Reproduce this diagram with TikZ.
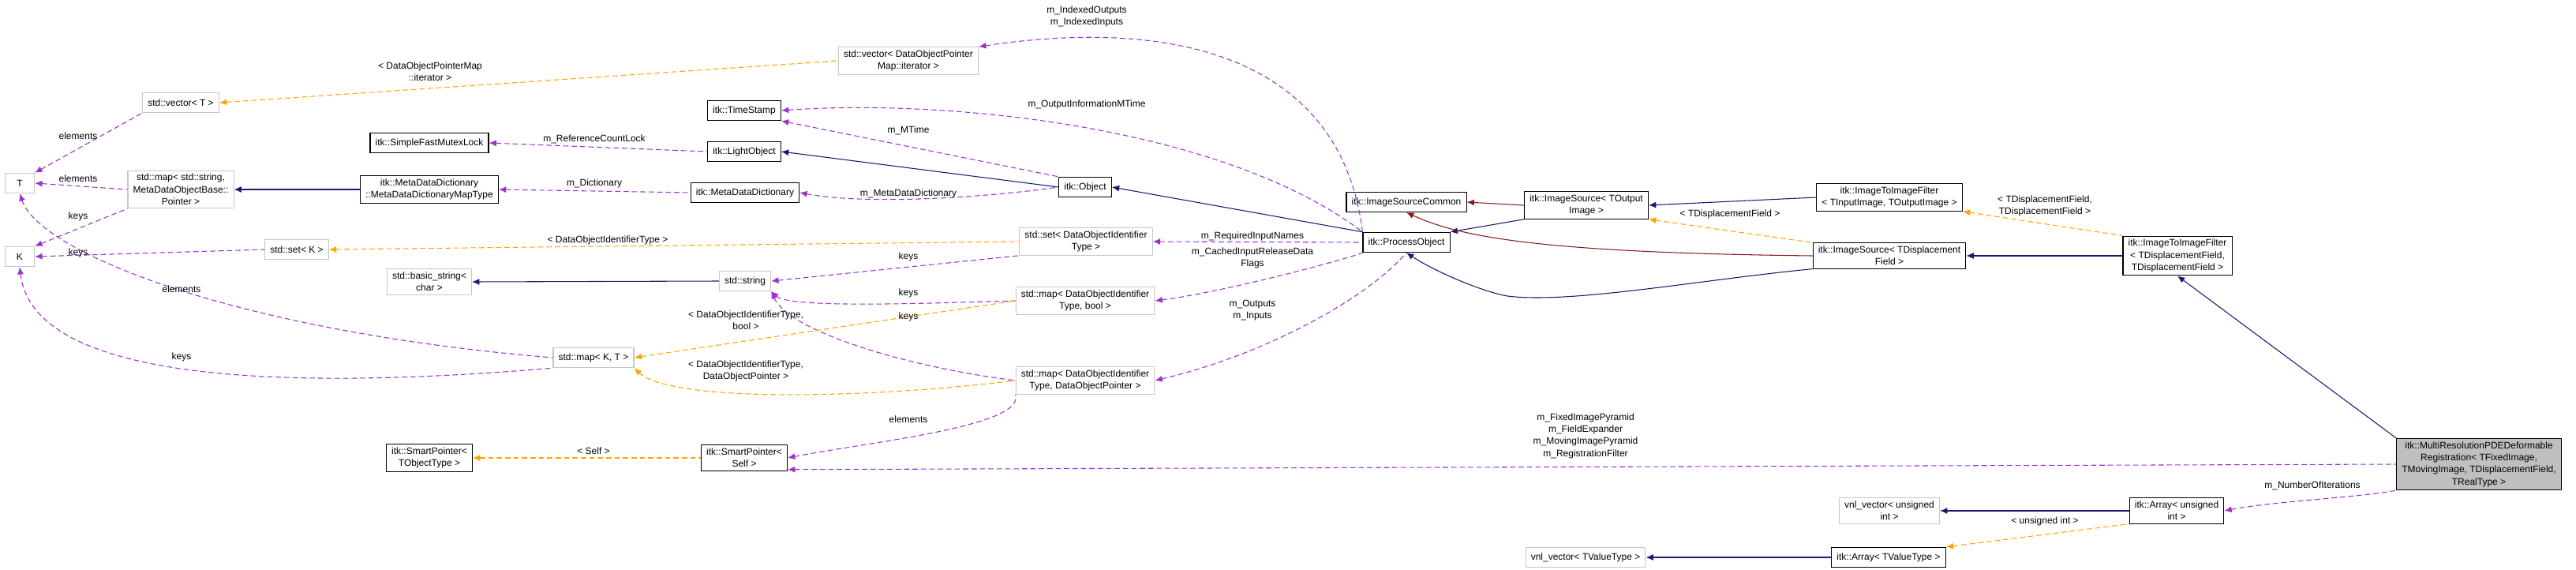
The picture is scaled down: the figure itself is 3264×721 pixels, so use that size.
\documentclass[tikz,border=0pt]{standalone}
\usepackage{fontspec}
\setmainfont{Liberation Sans}
\usetikzlibrary{arrows.meta}
\tikzset{>={Latex[length=7pt,width=6pt]}}
\definecolor{memb}{HTML}{9A32CD}
\definecolor{tmpl}{HTML}{FFA500}
\definecolor{inh}{HTML}{191970}
\definecolor{prot}{HTML}{8B1A1A}
\tikzset{
  cls/.style={draw=black,thick,fill=white,font=\fontsize{9}{11.5}\selectfont,align=center,inner xsep=5pt,inner ysep=3pt,minimum height=19pt},
  ext/.style={cls,draw=gray!45},
  main/.style={cls,fill=gray!50},
  lbl/.style={font=\fontsize{9}{11.5}\selectfont,align=center,inner sep=1pt},
  mem/.style={memb,dash pattern=on 5pt off 3pt,thick,<-},
  tpl/.style={tmpl,dash pattern=on 5pt off 3pt,thick,<-},
  isa/.style={inh,thick,<-},
  pisa/.style={prot,thick,<-}
}
\begin{document}
\begin{tikzpicture}[x=0.75pt,y=-0.75pt]
            \useasboundingbox (0,0) rectangle (3264,721);

            \node[ext] (vecT) at (229,130) {std::vector< T >};
            \node[cls] (mutex) at (544,181) {itk::SimpleFastMutexLock};
            \node[ext,minimum width=28pt] (T) at (25,232) {T};
            \node[ext] (mapStr) at (229,240) {std::map< std::string,\\MetaDataObjectBase::\\Pointer >};
            \node[cls] (mapType) at (544,240) {itk::MetaDataDictionary\\::MetaDataDictionaryMapType};
            \node[ext,minimum width=28pt] (K) at (25,325) {K};
            \node[ext] (setK) at (376,316) {std::set< K >};
            \node[ext] (bstr) at (544,357) {std::basic\_string<\\char >};
            \node[ext] (mapKT) at (752,453) {std::map< K, T >};
            \node[cls] (spObj) at (544,580) {itk::SmartPointer<\\TObjectType >};

            \node[ext] (vecIt) at (1151,77) {std::vector< DataObjectPointer\\Map::iterator >};
            \node[cls] (tstamp) at (943,140) {itk::TimeStamp};
            \node[cls] (light) at (943,192) {itk::LightObject};
            \node[cls] (mdd) at (944,244) {itk::MetaDataDictionary};
            \node[cls] (obj) at (1375,237) {itk::Object};
            \node[ext] (setId) at (1376,306) {std::set< DataObjectIdentifier\\Type >};
            \node[ext] (str) at (944,356) {std::string};
            \node[ext] (mapBool) at (1375,381) {std::map< DataObjectIdentifier\\Type, bool >};
            \node[ext] (mapPtr) at (1375,482) {std::map< DataObjectIdentifier\\Type, DataObjectPointer >};
            \node[cls] (spSelf) at (943,580) {itk::SmartPointer<\\Self >};

            \node[cls] (isc) at (1782,256) {itk::ImageSourceCommon};
            \node[cls] (po) at (1782,307) {itk::ProcessObject};
            \node[cls] (isOut) at (2010,260) {itk::ImageSource< TOutput\\Image >};
            \node[cls] (itiIn) at (2394,250) {itk::ImageToImageFilter\\< TInputImage, TOutputImage >};
            \node[cls] (isDisp) at (2394,324) {itk::ImageSource< TDisplacement\\Field >};
            \node[cls] (itiDisp) at (2759,324) {itk::ImageToImageFilter\\< TDisplacementField,\\TDisplacementField >};
            \node[main] (mrr) at (3141,588) {itk::MultiResolutionPDEDeformable\\Registration< TFixedImage,\\TMovingImage, TDisplacementField,\\TRealType >};
            \node[ext] (vnlU) at (2394,647) {vnl\_vector< unsigned\\int >};
            \node[cls] (arrU) at (2758,647) {itk::Array< unsigned\\int >};
            \node[ext] (vnlV) at (2009,706) {vnl\_vector< TValueType >};
            \node[cls] (arrV) at (2393,706) {itk::Array< TValueType >};

            \draw[mem] (T.north east) -- (vecT.south west);
            \draw[mem] (T.east) -- (mapStr.west);
            \draw[mem] (K.north east) -- (mapStr.south west);
            \draw[mem] (K.east) -- (setK.west);
            \draw[mem] (T.south) .. controls (50,320) and (300,420) .. (mapKT.west);
            \draw[mem] (K.south) .. controls (40,470) and (300,500) .. (mapKT.south west);
            \draw[mem] (mutex.east) -- (light.west);
            \draw[mem] (mapType.east) -- (mdd.west);
            \draw[mem] (tstamp.south east) -- (obj.north west);
            \draw[mem] (mdd.east) .. controls (1100,260) and (1250,250) .. (obj.west);
            \draw[mem] (tstamp.east) .. controls (1200,125) and (1550,160) .. (po.north west);
            \draw[mem] (vecIt.north east) .. controls (1500,20) and (1700,80) .. (po.north west);
            \draw[mem] (setId.east) -- (po.west);
            \draw[mem] (mapBool.east) .. controls (1550,370) and (1700,330) .. (po.south west);
            \draw[mem] (mapPtr.east) .. controls (1600,450) and (1730,380) .. (po.south);
            \draw[mem] (str.east) -- (setId.south west);
            \draw[mem] (str.south east) .. controls (1000,390) and (1150,385) .. (mapBool.west);
            \draw[mem] (str.south east) .. controls (1000,420) and (1150,465) .. (mapPtr.west);
            \draw[mem] (spSelf.east) .. controls (1100,560) and (1300,540) .. (mapPtr.south west);
            \draw[mem] (spSelf.-15) -- (mrr.west);
            \draw[mem] (arrU.east) .. controls (2880,635) and (2990,630) .. (mrr.south west);

            \draw[tpl] (vecT.east) -- (vecIt.west);
            \draw[tpl] (setK.east) -- (setId.west);
            \draw[tpl] (mapKT.east) -- (mapBool.west);
            \draw[tpl] (mapKT.south east) .. controls (850,510) and (1100,505) .. (mapPtr.west);
            \draw[tpl] (spObj.east) -- (spSelf.west);
            \draw[tpl] (isOut.south east) -- (isDisp.north west);
            \draw[tpl] (itiIn.south east) -- (itiDisp.north west);
            \draw[tpl] (arrV.north east) -- (arrU.south west);

            \draw[isa] (mapStr.east) -- (mapType.west);
            \draw[isa] (bstr.east) -- (str.west);
            \draw[isa] (light.east) -- (obj.west);
            \draw[isa] (obj.east) -- (po.north west);
            \draw[isa] (po.north east) -- (isOut.south west);
            \draw[isa] (isOut.east) -- (itiIn.west);
            \draw[isa] (po.south) .. controls (1820,345) and (1880,370) .. (1910,375) .. controls (1990,385) and (2150,355) .. (isDisp.south west);
            \draw[isa] (isDisp.east) -- (itiDisp.west);
            \draw[isa] (itiDisp.south) -- (mrr.north west);
            \draw[isa] (vnlU.east) -- (arrU.west);
            \draw[isa] (vnlV.east) -- (arrV.west);

            \draw[pisa] (isc.east) -- (isOut.west);
            \draw[pisa] (isc.south) .. controls (1850,300) and (1950,320) .. (isDisp.west);

            \node[lbl] (l1) at (99,172) {elements};
            \node[lbl] (l2) at (99,226) {elements};
            \node[lbl] (l3) at (99,274) {keys};
            \node[lbl] (l4) at (99,320) {keys};
            \node[lbl] (l5) at (230,366) {elements};
            \node[lbl] (l6) at (230,452) {keys};
            \node[lbl] (l7) at (545,91) {< DataObjectPointerMap\\::iterator >};
            \node[lbl] (l8) at (753,176) {m\_ReferenceCountLock};
            \node[lbl] (l9) at (753,232) {m\_Dictionary};
            \node[lbl] (l10) at (770,304) {< DataObjectIdentifierType >};
            \node[lbl] (l11) at (752,571) {< Self >};
            \node[lbl] (l12) at (1377,21) {m\_IndexedOutputs\\m\_IndexedInputs};
            \node[lbl] (l13) at (1377,132) {m\_OutputInformationMTime};
            \node[lbl] (l14) at (1151,165) {m\_MTime};
            \node[lbl] (l15) at (1151,245) {m\_MetaDataDictionary};
            \node[lbl] (l16) at (1587,299) {m\_RequiredInputNames};
            \node[lbl] (l17) at (1587,327) {m\_CachedInputReleaseData\\Flags};
            \node[lbl] (l18) at (1151,325) {keys};
            \node[lbl] (l19) at (1151,371) {keys};
            \node[lbl] (l20) at (1151,401) {keys};
            \node[lbl] (l21) at (945,406) {< DataObjectIdentifierType,\\bool >};
            \node[lbl] (l22) at (945,470) {< DataObjectIdentifierType,\\DataObjectPointer >};
            \node[lbl] (l23) at (1587,393) {m\_Outputs\\m\_Inputs};
            \node[lbl] (l24) at (1151,531) {elements};
            \node[lbl] (l25) at (2192,271) {< TDisplacementField >};
            \node[lbl] (l26) at (2591,261) {< TDisplacementField,\\TDisplacementField >};
            \node[lbl] (l27) at (2009,552) {m\_FixedImagePyramid\\m\_FieldExpander\\m\_MovingImagePyramid\\m\_RegistrationFilter};
            \node[lbl] (l28) at (2930,615) {m\_NumberOfIterations};
            \node[lbl] (l29) at (2591,660) {< unsigned int >};
        \end{tikzpicture}
\end{document}
